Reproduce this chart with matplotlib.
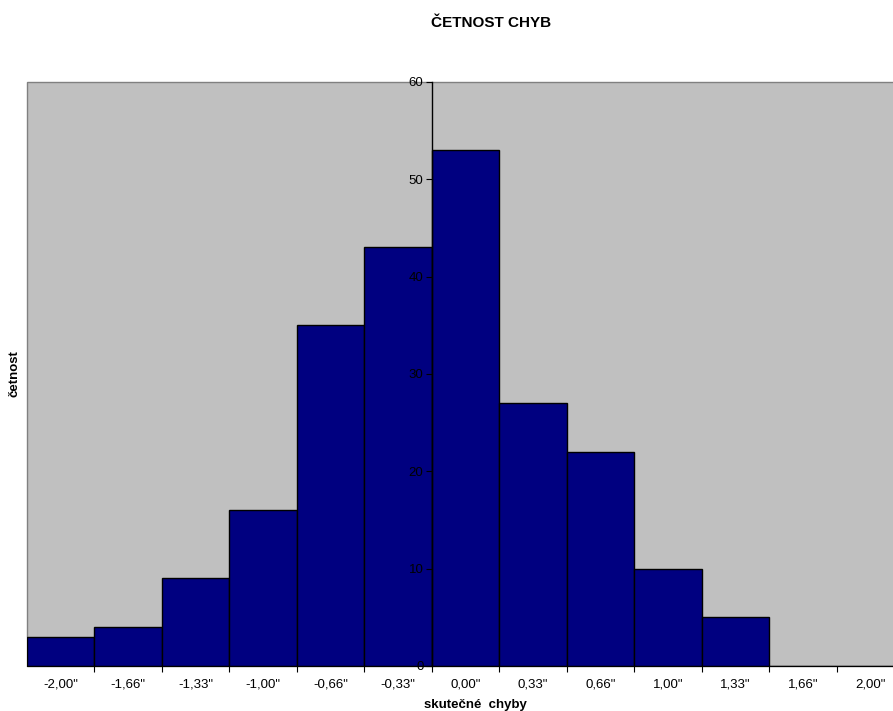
import matplotlib
matplotlib.use("Agg")
import matplotlib.pyplot as plt
from matplotlib.patches import Rectangle
from matplotlib.ticker import FixedLocator, NullFormatter

# Error classes and their frequencies
categories = ['-2,00"', '-1,66"', '-1,33"', '-1,00"', '-0,66"', '-0,33"',
              '0,00"', '0,33"', '0,66"', '1,00"', '1,33"', '1,66"', '2,00"']
counts = [3, 4, 9, 16, 35, 43, 53, 27, 22, 10, 5, 0, 0]
y_ticks = [0, 10, 20, 30, 40, 50, 60]

plt.rcParams['font.family'] = ['Liberation Sans', 'DejaVu Sans']

W, H = 893, 711
fig = plt.figure(figsize=(W / 100, H / 100), dpi=100)
fig.patch.set_facecolor('white')

left, right, top, bottom = 27, 904, 82, 666
ax = fig.add_axes([left / W, 1 - bottom / H, (right - left) / W, (bottom - top) / H])
ax.set_facecolor('#C0C0C0')

x = list(range(len(categories)))
ax.bar(x, counts, width=1.0, color='#000080', edgecolor='black', linewidth=1.0, zorder=1)

ax.set_xlim(-0.5, len(categories) - 0.5)
ax.set_ylim(0, 60)

# plot-area frame
for s in ['top', 'right']:
    ax.spines[s].set_visible(False)
ax.add_patch(Rectangle((0, 0), 1, 1, transform=ax.transAxes, fill=False,
                       edgecolor='#808080', linewidth=1.0, zorder=0.5, clip_on=False))
ax.spines['bottom'].set_color('black')
ax.spines['bottom'].set_linewidth(0.8)
ax.spines['bottom'].set_zorder(3)

# value axis crossing between -0,33" and 0,00"
ax.spines['left'].set_position(('data', 5.5))
ax.spines['left'].set_color('black')
ax.spines['left'].set_linewidth(1.0)
ax.spines['left'].set_zorder(3)
ax.set_yticks(y_ticks)
ax.set_yticklabels([str(v) for v in y_ticks])
ax.tick_params(axis='y', direction='out', length=4, width=0.8, labelsize=9.5, pad=2,
               colors='black')

# category labels centered, tick marks on boundaries
ax.set_xticks(x)
ax.set_xticklabels(categories)
ax.tick_params(axis='x', which='major', length=0, labelsize=9.5, pad=9)
ax.xaxis.set_minor_locator(FixedLocator([i + 0.5 for i in range(len(categories) - 1)]))
ax.xaxis.set_minor_formatter(NullFormatter())
ax.tick_params(axis='x', which='minor', direction='out', length=4, width=0.8)

fig.text(491 / W, 1 - 23 / H, 'ČETNOST CHYB', ha='center', va='center',
         fontsize=11, fontweight='bold')
fig.text(475 / W, 1 - 705 / H, 'skutečné  chyby', ha='center', va='center',
         fontsize=9.5, fontweight='bold')
fig.text(15 / W, 1 - 374 / H, 'četnost', ha='center', va='center',
         rotation=90, fontsize=9.5, fontweight='bold')

fig.savefig('out.png', dpi=100)
